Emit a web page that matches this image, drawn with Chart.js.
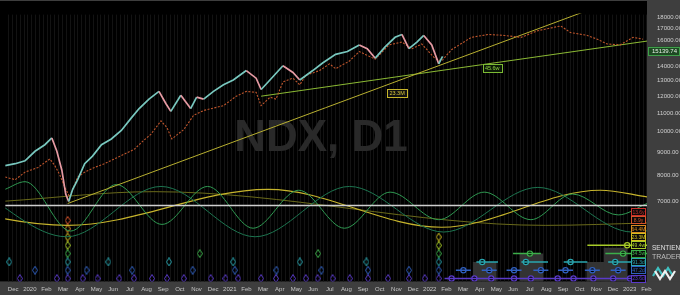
<!DOCTYPE html>
<html><head><meta charset="utf-8">
<script src="https://cdn.jsdelivr.net/npm/chart.js@4.4.1/dist/chart.umd.min.js"></script>
<style>html,body{margin:0;padding:0;background:#000;overflow:hidden}</style>
</head><body>
<canvas id="c" width="680" height="295"></canvas>
<script>
// ---- categories / tick labels ----
const monthLabels = ['Dec','2020','Feb','Mar','Apr','May','Jun','Jul','Aug','Sep','Oct','Nov','Dec','2021','Feb','Mar','Apr','May','Jun','Jul','Aug','Sep','Oct','Nov','Dec','2022','Feb','Mar','Apr','May','Jun','Jul','Aug','Sep','Oct','Nov','Dec','2023','Feb'];
const priceTicks = [7000,8000,9000,10000,11000,12000,13000,14000,15000,16000,17000,18000];
const lastPrice = 15139.74;

// ---- price (candles, approximated by close) : month index from Dec 2019 ----
const priceMonths = [-0.48,0.12,0.71,1.31,1.90,2.32,2.62,2.92,3.15,3.33,3.57,3.87,4.29,4.76,5.30,5.89,6.49,7.08,7.56,8.15,8.75,9.17,9.46,10.06,10.65,11.01,11.43,12.02,12.62,13.21,13.99,14.58,14.88,15.30,16.19,16.79,17.20,17.98,18.57,19.35,20.06,20.77,21.25,21.73,22.32,22.92,23.33,23.75,24.23,24.64,25.12,25.54,25.77];
const priceClose  = [8410,8490,8620,9050,9360,9690,9050,8210,7265,6990,7445,7820,8490,8830,9360,9640,10070,10730,11270,11830,12310,11550,11110,12070,11270,11950,11830,12310,12730,13050,13700,13175,12430,12920,14040,13565,13050,13700,14245,14885,15106,15630,15330,14600,15476,16250,16490,15330,15860,16410,15630,14180,14740];

// ---- composite / FLD line (orange, dotted) ----
const fldMonths = [-0.48,0.12,0.71,1.49,2.20,2.50,2.80,3.10,3.39,3.87,4.29,4.88,5.48,6.07,6.67,7.26,7.86,8.27,8.87,9.23,9.52,10.24,10.83,11.43,12.62,13.39,13.99,14.58,14.88,15.42,15.77,16.19,16.79,17.20,17.56,18.39,18.99,19.35,20.18,20.77,21.13,21.73,22.56,23.33,23.93,24.52,25.30,25.71,26.31,27.50,28.51,29.46,30.48,31.49,32.86,33.45,34.46,35.06,35.65,36.43,37.20,37.80];
const fldValues = [7930,7820,8130,8330,8700,8410,8010,7520,7160,7930,8130,8330,8490,8700,8920,9140,9590,9880,10580,10220,9640,10120,10890,11160,11440,12010,12310,12250,11440,11950,11830,12920,13175,12730,13370,13700,14180,13830,14385,15106,14885,14526,15630,15858,15327,15704,14596,14385,15253,16250,16493,16410,16250,16815,17230,16650,16410,16094,15704,15630,16250,16094];

// ---- trend lines ----
const trend23Months = [3.27, 38.04];
const trend23Values = [6920, 20900];
const trend45Months = [14.88, 38.04];
const trend45Values = [12010, 15940];
const baseLineValue = 6850;

// ---- cycle waves (relative amplitude) ----
const cycAMonths = [-0.48,0.71,3.45,6.19,8.93,11.67,14.40,17.14,19.88,22.62,25.54,28.27,31.07,33.57,36.31,38.04];
const cycAValues = [0.8,1.12,-0.96,1.0,-0.68,0.92,-0.84,0.76,-0.84,0.68,-0.48,0.68,-0.48,0.6,-0.28,0.2];
const cycBMonths = [-2.45,3.21,8.87,14.52,20.18,25.83,31.49,37.14,38.04];
const cycBValues = [0.92,-1.2,0.92,-1.2,0.92,-1.0,0.88,-1.0,-0.95];
const cycCMonths = [-8,3.27,15.30,25.71,35.24,38.04];
const cycCValues = [0.75,-0.72,0.8,-0.8,0.76,0.48];
const cycDMonths = [-0.48,8.45,31.96,38.04];
const cycDValues = [0.3,0.7,-0.72,-0.62];

// ---- cycle rows ----
const cycleNames  = ['13.6y','8.9y','64.4M','23.3M','49.4w','34.5w','91.3d','47.2d','23.6d'];
const cycleColors = ['#c8302a','#d4522a','#d88a20','#d4c020','#a8cc28','#3cae4a','#2aa6b0','#3060c0','#5a3ac8'];
const troughMarks = {
  1:[3.27], 2:[3.27], 3:[3.27,25.54], 4:[3.27,25.54], 5:[3.27,11.2,18.3,25.54],
  6:[-0.24,3.27,5.71,9.35,13.2,17.2,21.2,25.54],
  7:[1.31,3.27,4.40,7.14,10.77,13.3,15.8,18.5,21.3,23.75,25.54],
  8:[0.4,2.62,3.27,4.17,5.06,6.37,7.26,8.33,9.23,10.24,11.85,12.74,13.51,14.88,15.77,16.79,17.56,18.27,19.17,20.2,21.3,22.5,23.75,24.7,25.54]
};
const phaseSegments = {
  4:[[34.46,38.04]], 5:[[30.0,31.67],[35.54,38.04]],
  6:[[27.8,29.1],[30.5,32.1],[33.04,34.46],[35.71,37.6]],
  7:[[26.57,27.47],[28.12,29.02],[29.61,30.51],[31.22,32.12],[32.7,33.6],[34.31,35.21],[35.86,36.76]],
  8:[[25.89,37.62]]
};
const phaseCircles = {
  4:[36.85], 5:[31.01,36.6], 6:[28.15,30.77,33.45,36.13],
  7:[27.02,28.57,30.06,31.67,33.15,34.76,36.31],
  8:[26.31,27.68,28.69,30.06,31.07,32.68,33.63,34.82,36.01,37.02]
};
const blockCenters = [28.3,31.1,35.12,36.15];
const blockRanges  = [[6.06,8.4],[5.03,8.4],[6.06,8.4],[4.34,8.4]];

// ---------- build datasets ----------
const pts = (xs, ys) => xs.map((x,i)=>({x, y:ys[i]}));
function diamondCanvas(color){
  const c=document.createElement('canvas'); c.width=6; c.height=9;
  const g=c.getContext('2d'); g.strokeStyle=color; g.lineWidth=1;
  g.beginPath(); g.moveTo(3,0.5); g.lineTo(5.5,4.5); g.lineTo(3,8.5); g.lineTo(0.5,4.5); g.closePath(); g.stroke();
  return c;
}
const datasets = [];
datasets.push({label:'NDX', data:pts(priceMonths,priceClose), yAxisID:'y', borderWidth:1.7, pointRadius:0, tension:0,
  borderColor:'#78c8bf', segment:{borderColor: c => c.p1.parsed.y >= c.p0.parsed.y ? '#78c8bf' : '#e69aa3'}});
datasets.push({label:'FLD', data:pts(fldMonths,fldValues), yAxisID:'y', borderWidth:1.1, borderDash:[2,1.5], pointRadius:0, borderColor:'#c0562c', tension:0});
datasets.push({label:'23.3M', data:pts(trend23Months,trend23Values), yAxisID:'y', borderWidth:1, pointRadius:0, borderColor:'#b8b030', clip:0});
datasets.push({label:'45.6w', data:pts(trend45Months,trend45Values), yAxisID:'y', borderWidth:1, pointRadius:0, borderColor:'#8cbb34', clip:0});
datasets.push({label:'base', data:[{x:-0.48,y:baseLineValue},{x:38.04,y:baseLineValue}], yAxisID:'y', borderWidth:1.5, pointRadius:0, borderColor:'#cfcfcf'});
datasets.push({label:'cycA', data:pts(cycAMonths,cycAValues), yAxisID:'yc', borderWidth:1, pointRadius:0, borderColor:'#2f9a52', cubicInterpolationMode:'monotone'});
datasets.push({label:'cycB', data:pts(cycBMonths,cycBValues), yAxisID:'yc', borderWidth:1, pointRadius:0, borderColor:'#1d7550', cubicInterpolationMode:'monotone'});
datasets.push({label:'cycC', data:pts(cycCMonths,cycCValues), yAxisID:'yc', borderWidth:1.2, pointRadius:0, borderColor:'#c6b42c', cubicInterpolationMode:'monotone'});
datasets.push({label:'cycD', data:pts(cycDMonths,cycDValues), yAxisID:'yc', borderWidth:1, pointRadius:0, borderColor:'#6a6a1a', cubicInterpolationMode:'monotone'});
Object.keys(troughMarks).forEach(r=>{
  datasets.push({label:'tr'+r, data:troughMarks[r].map(x=>({x, y:+r})), yAxisID:'yr', showLine:false,
    pointStyle:diamondCanvas(cycleColors[r]), pointRadius:4});
});
Object.keys(phaseSegments).forEach(r=>{
  const d=[]; phaseSegments[r].forEach(s=>{ d.push({x:s[0],y:+r},{x:s[1],y:+r},{x:(s[1]+0.01),y:null}); });
  datasets.push({label:'ph'+r, data:d, yAxisID:'yr', borderWidth:1.5, pointRadius:0, borderColor:cycleColors[r], spanGaps:false});
  datasets.push({label:'pc'+r, data:phaseCircles[r].map(x=>({x,y:+r})), yAxisID:'yr', showLine:false, pointStyle:'circle',
    pointRadius:2.6, pointBorderWidth:1.2, pointBorderColor:cycleColors[r], pointBackgroundColor:'#000'});
});
datasets.push({type:'bar', label:'blocks', data:blockCenters.map((x,i)=>({x, y:blockRanges[i]})), yAxisID:'yr', xAxisID:'x',
  backgroundColor:'#333333', barThickness:23, grouped:false});

// ---------- decoration plugin ----------
const deco = {
  id:'deco',
  beforeDraw(chart){
    const {ctx, chartArea:a} = chart, xs = chart.scales.x;
    ctx.save();
    ctx.fillStyle='#000'; ctx.fillRect(0,0,chart.width,chart.height);
    ctx.fillStyle='#3e3e3e';
    ctx.fillRect(a.right,0,chart.width-a.right,chart.height);
    ctx.fillRect(0,a.bottom,chart.width,chart.height-a.bottom);
    ctx.fillRect(0,0,a.right,1);
    ctx.strokeStyle='#131313'; ctx.lineWidth=1;
    for(let m=-0.3; m<38.04; m+=12/52){
      const px=Math.round(xs.getPixelForValue(m))+0.5;
      ctx.beginPath(); ctx.moveTo(px,a.top+1); ctx.lineTo(px,a.bottom); ctx.stroke();
    }
    ctx.restore();
  },
  beforeDatasetsDraw(chart){
    const {ctx} = chart;
    ctx.save();
    ctx.font='bold 44px "Liberation Sans", Arial, sans-serif';
    ctx.fillStyle='#292929'; ctx.textAlign='center'; ctx.textBaseline='alphabetic';
    ctx.fillText('NDX, D1', 321, 151);
    ctx.restore();
  },
  afterDatasetsDraw(chart){
    const {ctx, chartArea:a} = chart, xs=chart.scales.x, ys=chart.scales.y, yr=chart.scales.yr;
    ctx.save();
    function box(text, cx, cy, w, border, fill, color){
      ctx.fillStyle=fill; ctx.fillRect(cx-w/2, cy-4, w, 8);
      ctx.strokeStyle=border; ctx.lineWidth=1; ctx.strokeRect(Math.round(cx-w/2)+0.5, Math.round(cy-4)+0.5, w, 8);
      ctx.fillStyle=color; ctx.font='5.5px "Liberation Sans", Arial, sans-serif';
      ctx.textAlign='center'; ctx.textBaseline='middle'; ctx.fillText(text, cx, cy+0.5);
    }
    function onLine(xsArr, vsArr, m){
      const x0=xs.getPixelForValue(xsArr[0]), x1=xs.getPixelForValue(xsArr[1]);
      const y0=ys.getPixelForValue(vsArr[0]), y1=ys.getPixelForValue(vsArr[1]);
      const px=xs.getPixelForValue(m); return [px, y0+(y1-y0)*(px-x0)/(x1-x0)];
    }
    let p=onLine(trend23Months,trend23Values,23.04);
    box('23.3M', p[0], p[1]+12, 20, '#c8b62a', '#111', '#d8c83a');
    p=onLine(trend45Months,trend45Values,28.75);
    box('45.6w', p[0], p[1]+5, 19, '#7cbb34', '#0c1a08', '#8fd040');
    cycleNames.forEach((n,r)=>{
      const cy=yr.getPixelForValue(r);
      ctx.fillStyle='#0a0a0a'; ctx.fillRect(a.right-16, cy-4, 15, 8);
      ctx.strokeStyle=cycleColors[r]; ctx.lineWidth=1; ctx.strokeRect(a.right-15.5, Math.round(cy-4)+0.5, 14, 7);
      ctx.fillStyle=cycleColors[r]; ctx.font='5px "Liberation Sans", Arial, sans-serif';
      ctx.textAlign='center'; ctx.textBaseline='middle'; ctx.fillText(n, a.right-8.5, cy+0.5);
    });
    ctx.restore();
  },
  afterDraw(chart){
    const {ctx, chartArea:a} = chart, ys=chart.scales.y;
    ctx.save();
    const py=ys.getPixelForValue(lastPrice);
    ctx.fillStyle='#1d4a22'; ctx.fillRect(a.right+1, py-4.5, 32, 9);
    ctx.strokeStyle='#3fa04a'; ctx.lineWidth=1; ctx.strokeRect(a.right+1.5, Math.round(py-4.5)+0.5, 31, 8);
    ctx.fillStyle='#e8f0e8'; ctx.font='6px "Liberation Sans", Arial, sans-serif';
    ctx.textAlign='left'; ctx.textBaseline='middle'; ctx.fillText(lastPrice.toFixed(2), a.right+5, py+0.5);
    ctx.fillStyle='#e0e0e0'; ctx.font='6.5px "Liberation Sans", Arial, sans-serif'; ctx.textAlign='left';
    ctx.fillText('SENTIENT', a.right+5, 248);
    ctx.fillStyle='#bdbdbd'; ctx.font='7px "Liberation Sans", Arial, sans-serif';
    ctx.fillText('TRADER', a.right+5, 257);
    ctx.lineWidth=2.2; ctx.lineJoin='miter';
    ctx.strokeStyle='#3fc0c0';
    ctx.beginPath(); ctx.moveTo(a.right+6,276); ctx.lineTo(a.right+11,268); ctx.lineTo(a.right+16,276); ctx.lineTo(a.right+21,268); ctx.lineTo(a.right+26,276); ctx.stroke();
    ctx.strokeStyle='#f0f0f0';
    ctx.beginPath(); ctx.moveTo(a.right+8,271); ctx.lineTo(a.right+13,279); ctx.lineTo(a.right+18,271); ctx.lineTo(a.right+23,279); ctx.lineTo(a.right+28,271); ctx.stroke();
    ctx.restore();
  }
};

Chart.defaults.font.family='"Liberation Sans", Arial, sans-serif';
new Chart(document.getElementById('c'), {
  type:'line',
  data:{datasets},
  options:{
    responsive:false, animation:false, devicePixelRatio:1,
    layout:{padding:0},
    plugins:{legend:{display:false}, tooltip:{enabled:false}},
    scales:{
      x:{type:'linear', position:'bottom', min:-0.48, max:38.04, offset:false,
        grid:{display:false, drawTicks:false, offset:false}, border:{display:false},
        afterBuildTicks:s=>{ s.ticks = monthLabels.map((_,i)=>({value:i})); },
        ticks:{autoSkip:false, maxRotation:0, padding:4, color:'#c8c8c8', font:{size:6}, callback:v=>monthLabels[v]},
        afterFit:s=>{ s.height=13; }},
      y:{type:'logarithmic', position:'right', min:4638, max:18357,
        grid:{display:false, drawTicks:false}, border:{display:false},
        afterBuildTicks:s=>{ s.ticks = priceTicks.map(v=>({value:v})); },
        ticks:{padding:10, color:'#cfcfcf', font:{size:6}, callback:v=>Number(v).toFixed(2)},
        afterFit:s=>{ s.width=33; }},
      yc:{type:'linear', display:false, min:-3.08, max:8.2},
      yr:{type:'linear', display:false, reverse:true, min:-23.886, max:8.343}
    }
  },
  plugins:[deco]
});
</script>
</body></html>
